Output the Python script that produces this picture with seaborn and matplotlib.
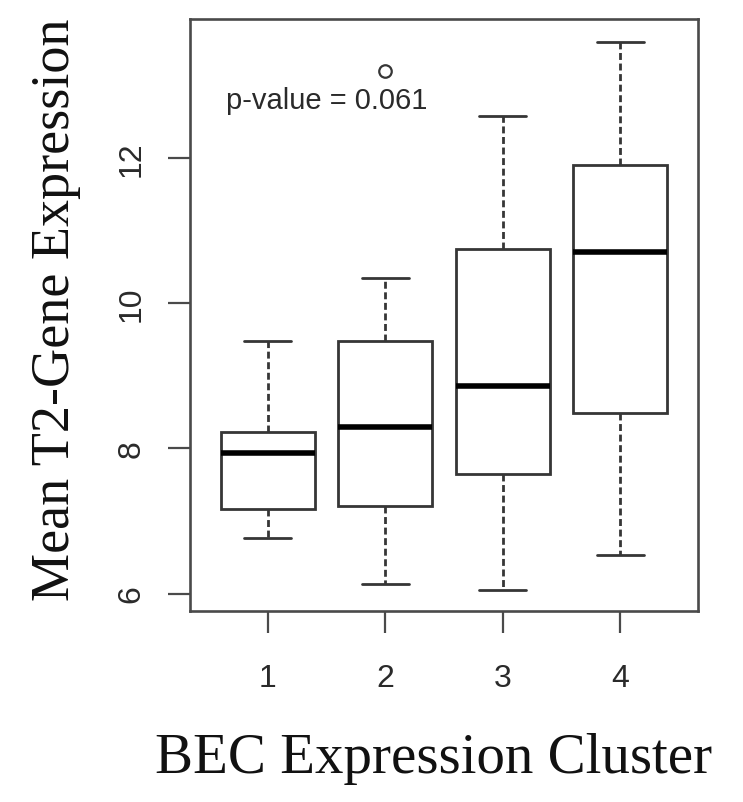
import numpy as np
import pandas as pd
import matplotlib
matplotlib.use("Agg")
import matplotlib.pyplot as plt
import seaborn as sns

# Five-number summaries per BEC expression cluster
clusters = ["1", "2", "3", "4"]
whisker_low = [6.76, 6.13, 6.05, 6.53]
q1 = [7.17, 7.20, 7.65, 8.48]
median = [7.94, 8.29, 8.86, 10.70]
q3 = [8.22, 9.48, 10.74, 11.90]
whisker_high = [9.48, 10.34, 12.57, 13.60]
outliers = [[], [13.19], [], []]

y_ticks = [6, 8, 10, 12]
p_value_label = "p-value = 0.061"

# Long-form table whose quartiles reproduce each summary exactly
rows = []
for i, c in enumerate(clusters):
    vals = [whisker_low[i], q1[i], q1[i], median[i], median[i],
            q3[i], q3[i], whisker_high[i]] + outliers[i]
    rows += [(c, v) for v in vals]
df = pd.DataFrame(rows, columns=["cluster", "value"])

sns.set_theme(style="white")
plt.rcParams["font.family"] = ["Liberation Sans", "DejaVu Sans"]

fig = plt.figure(figsize=(7.43, 8.03), dpi=100)
ax = fig.add_axes([0.2557, 0.2379, 0.6837, 0.7372])

line_col = "#363636"
sns.boxplot(
    data=df, x="cluster", y="value", order=clusters, ax=ax,
    color="white", saturation=1, linecolor=line_col, linewidth=2.0,
    width=0.8, whis=1.5,
    whiskerprops=dict(linestyle=(0, (2.5, 1.3)), linewidth=2.0,
                      color=line_col),
    capprops=dict(linewidth=2.0, color=line_col),
    medianprops=dict(linewidth=4.0, color="black"),
    flierprops=dict(marker="o", markersize=9, markerfacecolor="none",
                    markeredgecolor=line_col, markeredgewidth=1.6),
)

ax.set_xlim(-0.66, 3.66)
ax.set_ylim(5.76, 13.91)
ax.set_yticks(y_ticks)
ax.set_yticklabels([str(t) for t in y_ticks], rotation=90, va="center")

for s in ax.spines.values():
    s.set_visible(True)
    s.set_color("#4a4a4a")
    s.set_linewidth(1.9)

ax.tick_params(axis="both", which="major", length=15.5, width=1.6,
               color="#4a4a4a", labelsize=23, labelcolor="#2a2a2a",
               direction="out", left=True, bottom=True)
ax.tick_params(axis="x", pad=22)
ax.tick_params(axis="y", pad=16)

ax.text(0.5, 12.8, p_value_label, ha="center", va="center",
        fontsize=21, color="#2a2a2a")

serif = ["Liberation Serif", "DejaVu Serif"]
ax.set_xlabel("BEC Expression Cluster", fontsize=41, family=serif,
              color="#111111")
ax.set_ylabel("Mean T2-Gene Expression", fontsize=39, family=serif,
              color="#111111")
ax.xaxis.set_label_coords(0.48, -0.205)
ax.yaxis.set_label_coords(-0.214, 0.51)

fig.savefig("out.png", dpi=100, facecolor="white")
